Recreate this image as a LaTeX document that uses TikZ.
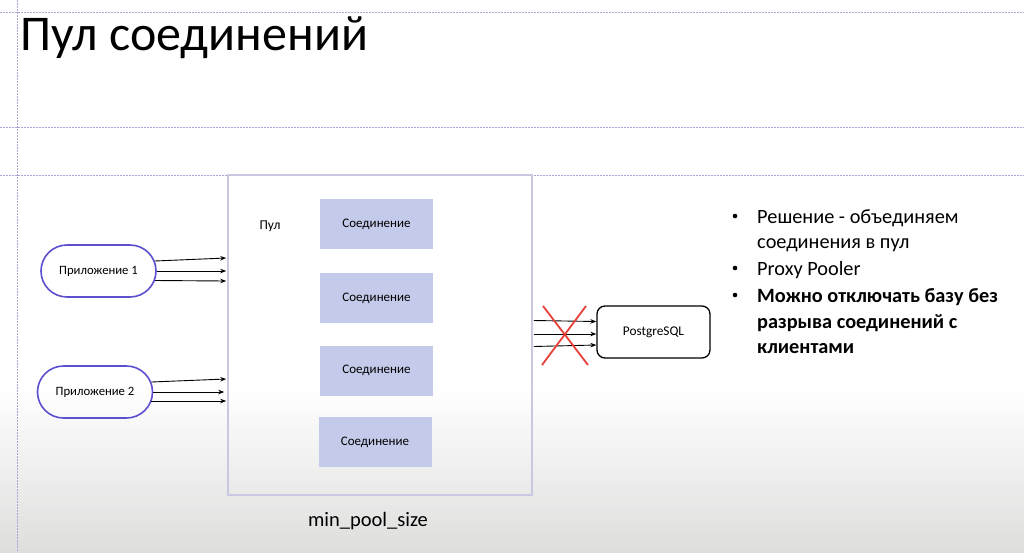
\documentclass[tikz,border=0pt]{standalone}
\usepackage{fontspec}
\setmainfont{Carlito}
\usetikzlibrary{arrows.meta,calc}

\definecolor{guide}{RGB}{168,166,214}
\definecolor{poolline}{RGB}{200,200,226}
\definecolor{connfill}{RGB}{196,202,234}
\definecolor{appline}{RGB}{92,80,206}
\definecolor{crossred}{RGB}{232,64,58}
\definecolor{floor}{RGB}{222,223,221}

\tikzset{
  guideline/.style={guide, line width=0.8pt, dash pattern=on 1.5pt off 1.5pt},
  poolbox/.style={draw=poolline, line width=1.6pt, minimum width=304pt, minimum height=320pt, inner sep=0pt},
  connbox/.style={fill=connfill, minimum width=113pt, minimum height=50pt, inner sep=0pt, font=\fontsize{13}{15}\selectfont},
  appbox/.style={draw=appline, line width=1.6pt, rounded corners=26pt, minimum width=115pt, minimum height=52pt, inner sep=0pt, font=\fontsize{12.7}{15}\selectfont},
  dbbox/.style={draw=black, line width=1.3pt, rounded corners=8pt, minimum width=113pt, minimum height=52pt, inner sep=0pt, font=\fontsize{13.3}{15}\selectfont},
  link/.style={black, line width=0.9pt, -{Stealth[length=6pt,width=4.5pt]}},
  cross/.style={crossred, line width=1.8pt},
  noteline/.style={anchor=base west, inner sep=0pt, font=\fontsize{20.3}{24}\selectfont},
  bulletmark/.style={circle, fill=black, inner sep=0pt, minimum size=4.6pt}
}

\begin{document}
\begin{tikzpicture}[x=1pt,y=-1pt]
  \useasboundingbox (0,0) rectangle (1024,552);
  % page background with the soft floor towards the bottom
  \fill[white] (0,0) rectangle (1024,552);
  \fill[top color=white, bottom color=floor] (0,385) rectangle (1024,552);

  % layout guides
  \draw[guideline] (0,12) -- (1024,12);
  \draw[guideline] (0,127) -- (1024,127);
  \draw[guideline] (0,175) -- (1024,175);
  \draw[guideline] (17,0) -- (17,552);

  % title
  \node[anchor=base west, inner sep=0pt, font=\fontsize{50}{60}\selectfont] (title) at (20,50) {Пул соединений};

  % the pool with its connections
  \node[poolbox] (pool) at (380,335) {};
  \node[font=\fontsize{13.5}{15}\selectfont] (poollabel) at (270,226) {Пул};
  \node[connbox] (c1) at (376.5,224) {Соединение};
  \node[connbox] (c2) at (376.5,298) {Соединение};
  \node[connbox] (c3) at (376.5,370.5) {Соединение};
  \node[connbox] (c4) at (375,442) {Соединение};
  \node[font=\fontsize{20.5}{24}\selectfont] (minsize) at (368,521) {min\_pool\_size};

  % client applications
  \node[appbox] (app1) at (98.5,271) {Приложение 1};
  \node[appbox] (app2) at (95,392) {Приложение 2};

  \draw[link] ([xshift=-2pt,yshift=10pt]app1.east) -- ([xshift=-1pt]pool.west |- 0,258);
  \draw[link] (app1.east) -- ([xshift=-1pt]pool.west |- 0,271);
  \draw[link] ([xshift=-2pt,yshift=-9.5pt]app1.east) -- ([xshift=-1pt]pool.west |- 0,281);

  \draw[link] ([xshift=-2pt,yshift=10pt]app2.east) -- ([xshift=-1pt]pool.west |- 0,379);
  \draw[link] (app2.east) -- ([xshift=-3pt]pool.west |- 0,392);
  \draw[link] ([xshift=-2pt,yshift=-9pt]app2.east) -- ([xshift=-1pt]pool.west |- 0,401);

  % database behind the pool
  \node[dbbox] (db) at (653.5,332) {PostgreSQL};
  \draw[link] ([xshift=1pt]pool.east |- 0,320.5) -- (db.west |- 0,321.5);
  \draw[link] ([xshift=1pt]pool.east |- 0,334) -- (db.west |- 0,334);
  \draw[link] ([xshift=1pt]pool.east |- 0,346.5) -- (db.west |- 0,345);

  % the direct links are struck out
  \coordinate (xa) at (543,306);
  \coordinate (xb) at (588,365);
  \coordinate (xc) at (586,306);
  \coordinate (xd) at (542,365);
  \draw[cross] (xa) -- (xb);
  \draw[cross] (xc) -- (xd);

  % notes
  \node[bulletmark] (b1) at (735,216) {};
  \node[noteline] (n1) at (757,223) {Решение - объединяем};
  \node[noteline] (n2) at (757,248) {соединения в пул};
  \node[bulletmark] (b2) at (735,268) {};
  \node[noteline] (n3) at (757,275) {Proxy Pooler};
  \node[bulletmark] (b3) at (735,295) {};
  \node[noteline] (n4) at (757,302) {\bfseries Можно отключать базу без};
  \node[noteline] (n5) at (757,328) {\bfseries разрыва соединений с};
  \node[noteline] (n6) at (757,353) {\bfseries клиентами};
\end{tikzpicture}
\end{document}
